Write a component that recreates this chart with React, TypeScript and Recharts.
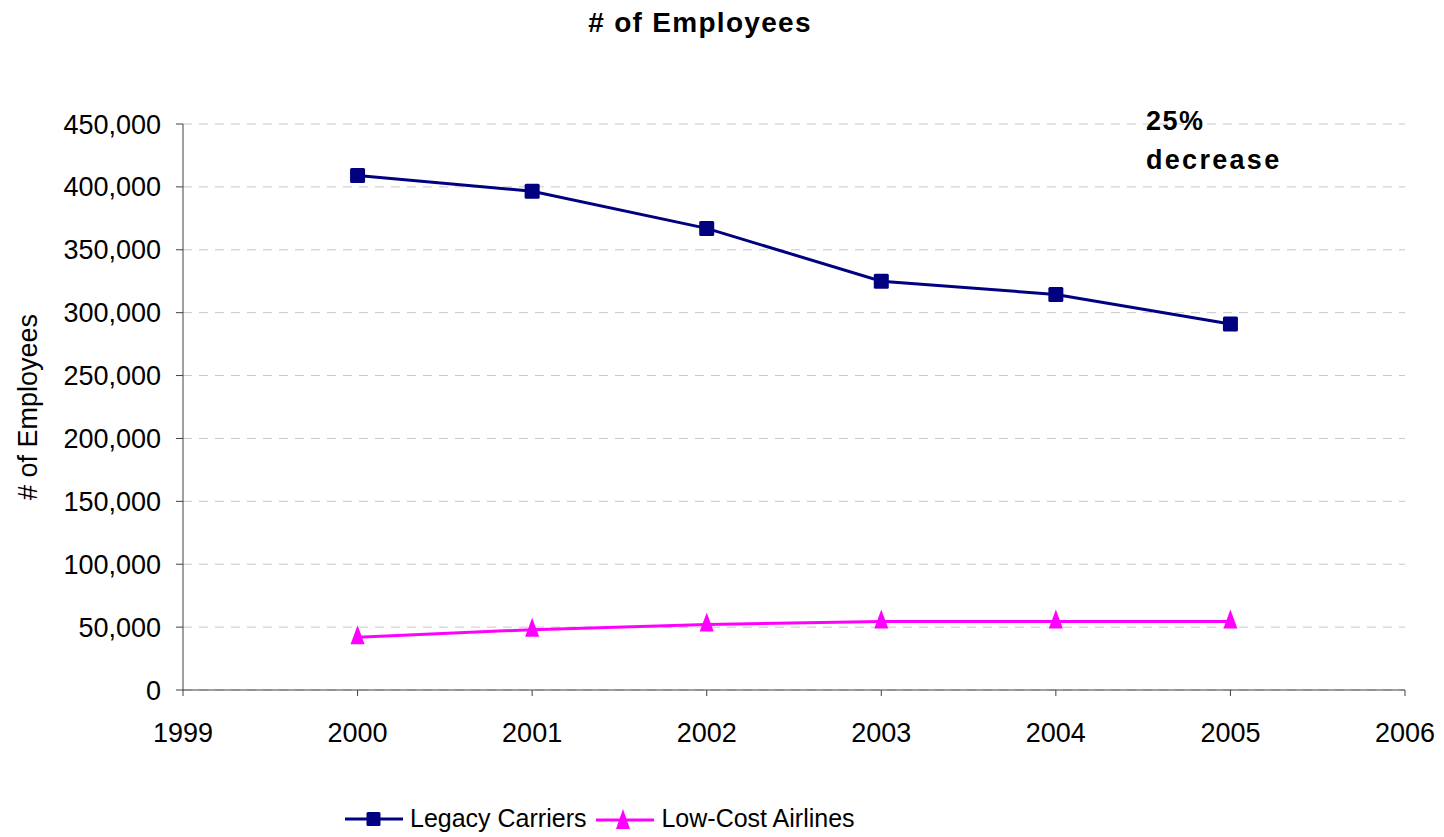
import React from 'react'
import {
  CartesianGrid,
  Legend,
  Line,
  LineChart,
  XAxis,
  YAxis,
} from 'recharts'

// values
const years = [2000, 2001, 2002, 2003, 2004, 2005]
const legacyCarriers = [409000, 396500, 367000, 325000, 314500, 291000]
const lowCostAirlines = [42000, 48000, 52000, 54500, 54500, 54500]
const xTicks = [1999, 2000, 2001, 2002, 2003, 2004, 2005, 2006]
const yTicks = [0, 50000, 100000, 150000, 200000, 250000, 300000, 350000, 400000, 450000]

const LEGACY_NAME = 'Legacy Carriers'
const LOWCOST_NAME = 'Low-Cost Airlines'
const NAVY = '#000080'
const MAGENTA = '#ff00ff'
const FONT = '"Liberation Sans", Arial, sans-serif'

const chartData = years.map((year, i) => ({
  year,
  legacy: legacyCarriers[i],
  lowCost: lowCostAirlines[i],
}))

const formatThousands = (v: number) => v.toLocaleString('en-US')

function SquareDot(props: any) {
  const { cx, cy } = props
  if (cx == null || cy == null) return null
  return <rect x={cx - 7.5} y={cy - 7.5} width={15} height={15} rx={1.5} fill={NAVY} />
}

function TriangleDot(props: any) {
  const { cx, cy } = props
  if (cx == null || cy == null) return null
  return (
    <path
      d={`M${cx},${cy - 12} L${cx + 7},${cy + 7} L${cx - 7},${cy + 7} Z`}
      fill={MAGENTA}
    />
  )
}

/**
 * Legend drawn by hand so the icons look like the Excel ones.
 */
function ChartLegend() {
  const text = { fontSize: 25, color: '#000', lineHeight: '25px' }
  return (
    <div style={{ display: 'flex', alignItems: 'center', fontFamily: FONT }}>
      <svg width={58} height={20}>
        <line x1={0} y1={10} x2={58} y2={10} stroke={NAVY} strokeWidth={3} />
        <rect x={21.5} y={3} width={14} height={14} rx={1.5} fill={NAVY} />
      </svg>
      <span style={{ ...text, marginLeft: 7 }}>{LEGACY_NAME}</span>
      <svg width={58} height={22} style={{ marginLeft: 10 }}>
        <line x1={0} y1={12} x2={58} y2={12} stroke={MAGENTA} strokeWidth={3} />
        <path d="M27,1 L34,21 L20,21 Z" fill={MAGENTA} />
      </svg>
      <span style={{ ...text, marginLeft: 7 }}>{LOWCOST_NAME}</span>
    </div>
  )
}

export default function App() {
  return (
    <div
      style={{
        position: 'absolute',
        top: 0,
        left: 0,
        width: 1444,
        height: 837,
        background: '#fff',
        fontFamily: FONT,
      }}
    >
      <LineChart
        width={1444}
        height={837}
        data={chartData}
        margin={{ top: 124, right: 39, left: 13, bottom: 87 }}
      >
        <CartesianGrid
          vertical={false}
          stroke="#c8c8c8"
          strokeDasharray="9 7"
        />
        <XAxis
          dataKey="year"
          type="number"
          domain={[1999, 2006]}
          ticks={xTicks}
          height={60}
          tickSize={6}
          tickMargin={27}
          tick={{ fill: '#000', fontSize: 27, fontFamily: FONT }}
          axisLine={{ stroke: '#404040' }}
          tickLine={{ stroke: '#404040' }}
        />
        <YAxis
          type="number"
          domain={[0, 450000]}
          ticks={yTicks}
          width={170}
          tickSize={7}
          tickMargin={15}
          tickFormatter={formatThousands}
          tick={{ fill: '#000', fontSize: 27, fontFamily: FONT }}
          axisLine={{ stroke: '#404040' }}
          tickLine={{ stroke: '#404040' }}
          label={{
            content: () => (
              <text
                x={28}
                y={407}
                transform="rotate(-90 28 407)"
                textAnchor="middle"
                dominantBaseline="central"
                fontSize={27}
                fontFamily={FONT}
                fill="#000"
              >
                # of Employees
              </text>
            ),
          }}
        />
        <Legend
          layout="vertical"
          align="center"
          verticalAlign="middle"
          content={() => <ChartLegend />}
          wrapperStyle={{ top: 806, left: 345, width: 'auto' }}
        />
        <Line
          type="linear"
          dataKey="legacy"
          name={LEGACY_NAME}
          stroke={NAVY}
          strokeWidth={3}
          dot={<SquareDot />}
          activeDot={false}
          isAnimationActive={false}
        />
        <Line
          type="linear"
          dataKey="lowCost"
          name={LOWCOST_NAME}
          stroke={MAGENTA}
          strokeWidth={3}
          dot={<TriangleDot />}
          activeDot={false}
          isAnimationActive={false}
        />
      </LineChart>

      {/* title and the note in the top right */}
      <svg
        width={1444}
        height={200}
        style={{ position: 'absolute', top: 0, left: 0, pointerEvents: 'none' }}
      >
        <text
          x={700}
          y={32}
          textAnchor="middle"
          fontSize={28}
          fontWeight="bold"
          letterSpacing={1.3}
          fontFamily={FONT}
          fill="#000"
        >
          # of Employees
        </text>
        <text x={1146} y={130} fontSize={27} fontWeight="bold" letterSpacing={1.5} fontFamily={FONT} fill="#000">
          25%
        </text>
        <text x={1146} y={169} fontSize={27} fontWeight="bold" letterSpacing={2.3} fontFamily={FONT} fill="#000">
          decrease
        </text>
      </svg>
    </div>
  )
}
